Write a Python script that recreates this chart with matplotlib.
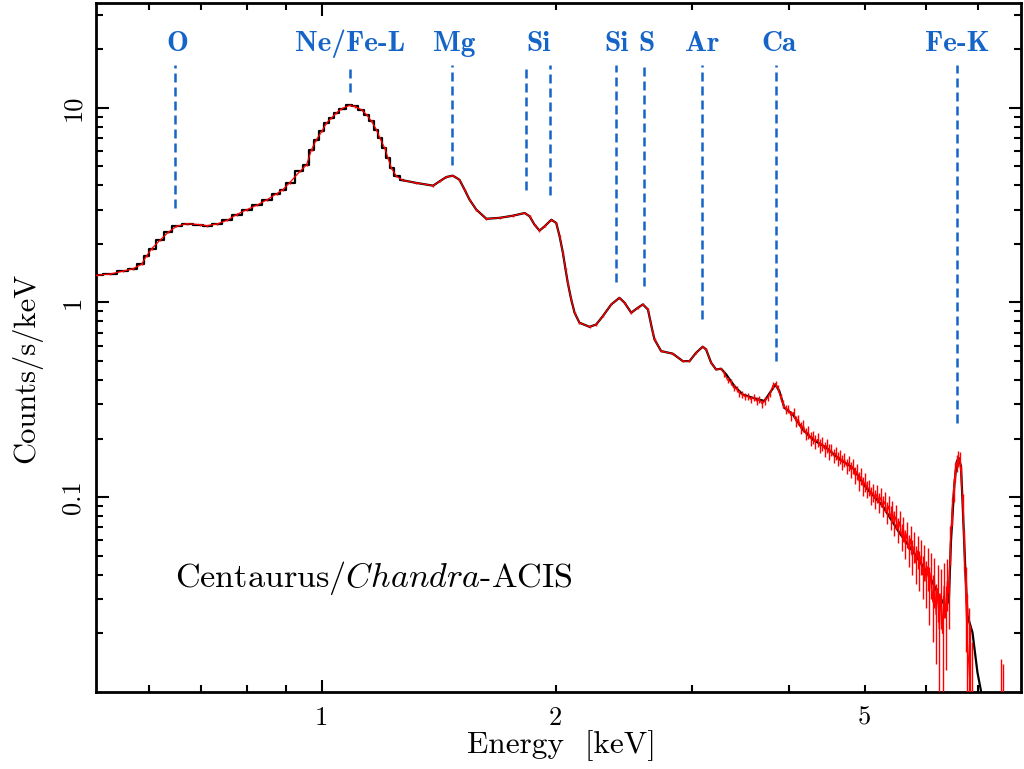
import numpy as np
import matplotlib
matplotlib.use('Agg')
import matplotlib.pyplot as plt
from matplotlib.ticker import FixedLocator, FixedFormatter, NullFormatter
import matplotlib.transforms as mtransforms

plt.rcParams['font.family'] = 'cmr10'
plt.rcParams['mathtext.fontset'] = 'cm'
plt.rcParams['axes.formatter.use_mathtext'] = True
plt.rcParams['axes.unicode_minus'] = False

# ---------------- data ----------------
model_E = [0.513, 0.534, 0.555, 0.571, 0.586, 0.595, 0.604, 0.619, 0.634, 0.650,
           0.670, 0.697, 0.711, 0.733, 0.755, 0.777, 0.801, 0.825, 0.850, 0.875,
           0.891, 0.909, 0.937, 0.956, 0.970, 0.984, 1.000, 1.014, 1.029, 1.044,
           1.060, 1.086, 1.103, 1.125, 1.142, 1.159, 1.176, 1.188, 1.205, 1.217,
           1.229, 1.248, 1.272, 1.324, 1.391, 1.418, 1.447, 1.475, 1.504, 1.527,
           1.550, 1.581, 1.629, 1.694, 1.762, 1.825, 1.852, 1.879, 1.907, 1.936,
           1.975, 2.004, 2.024, 2.044, 2.060, 2.074, 2.095, 2.116, 2.147, 2.212,
           2.256, 2.301, 2.359, 2.417, 2.454, 2.503, 2.552, 2.591, 2.630, 2.669,
           2.682, 2.735, 2.831, 2.917, 2.975, 3.034, 3.094, 3.125, 3.172, 3.219,
           3.267, 3.316, 3.399, 3.483, 3.588, 3.715, 3.789, 3.837, 3.883, 3.941,
           4.040, 4.162, 4.286, 4.460, 4.638, 4.826, 5.021, 5.275, 5.540, 5.823,
           6.056, 6.237, 6.365, 6.420, 6.458, 6.523, 6.567, 6.606, 6.653, 6.683,
           6.737, 6.784, 6.885, 6.987, 7.058, 7.110]
model_C = [1.38, 1.40, 1.45, 1.49, 1.57, 1.74, 1.89, 2.09, 2.29, 2.46,
           2.54, 2.51, 2.48, 2.53, 2.64, 2.83, 3.00, 3.16, 3.37, 3.62,
           3.80, 4.12, 4.71, 5.10, 6.09, 6.85, 7.56, 8.35, 8.85, 9.40,
           9.88, 10.28, 10.15, 9.77, 9.21, 8.51, 7.71, 6.99, 6.21, 5.52,
           4.91, 4.44, 4.24, 4.11, 3.98, 4.19, 4.41, 4.48, 4.27, 3.80,
           3.37, 3.00, 2.69, 2.72, 2.79, 2.88, 2.77, 2.51, 2.34, 2.46,
           2.66, 2.56, 2.19, 1.80, 1.48, 1.26, 1.036, 0.886, 0.787, 0.750,
           0.771, 0.851, 0.977, 1.057, 0.997, 0.886, 0.939, 0.977, 0.921, 0.699,
           0.646, 0.563, 0.546, 0.500, 0.500, 0.552, 0.593, 0.574, 0.491, 0.453,
           0.457, 0.428, 0.372, 0.337, 0.324, 0.312, 0.351, 0.380, 0.351, 0.288,
           0.267, 0.223, 0.198, 0.180, 0.157, 0.142, 0.112, 0.0902, 0.0659, 0.0500,
           0.0395, 0.0312, 0.0272, 0.0300, 0.0586, 0.1143, 0.1507, 0.1598, 0.1447, 0.0977,
           0.0445, 0.0246, 0.0202, 0.0126, 0.0102, 0.0087]

# observed counts at high energy (noisy part)
obs_E = [3.30, 3.33, 3.36, 3.39, 3.42, 3.45, 3.48, 3.51, 3.54, 3.57,
         3.60, 3.63, 3.66, 3.69, 3.72, 3.75, 3.78, 3.81, 3.84, 3.87,
         3.90, 3.93, 3.96, 3.99, 4.02, 4.05, 4.08, 4.11, 4.14, 4.17,
         4.20, 4.23, 4.26, 4.29, 4.32, 4.35, 4.38, 4.41, 4.44, 4.47,
         4.50, 4.53, 4.56, 4.59, 4.62, 4.65, 4.68, 4.71, 4.74, 4.77,
         4.80, 4.83, 4.86, 4.89, 4.92, 4.95, 4.98, 5.01, 5.04, 5.07,
         5.10, 5.13, 5.16, 5.19, 5.22, 5.25, 5.28, 5.31, 5.34, 5.37,
         5.40, 5.43, 5.46, 5.49, 5.52, 5.55, 5.58, 5.61, 5.64, 5.67,
         5.70, 5.73, 5.76, 5.79, 5.82, 5.85, 5.88, 5.91, 5.94, 5.97,
         6.00, 6.03, 6.06, 6.09, 6.12, 6.15, 6.18, 6.21, 6.24, 6.27,
         6.30, 6.33, 6.36, 6.39, 6.42, 6.45, 6.48, 6.51, 6.54, 6.57,
         6.60, 6.63, 6.66, 6.69, 6.72, 6.75, 6.78, 6.81, 6.84, 6.87,
         6.92, 7.00, 7.48, 7.50, 7.53]
obs_C = [0.430, 0.400, 0.392, 0.366, 0.360, 0.342, 0.338, 0.328, 0.330, 0.318,
         0.326, 0.312, 0.318, 0.302, 0.312, 0.325, 0.342, 0.375, 0.380, 0.362,
         0.325, 0.300, 0.282, 0.284, 0.262, 0.272, 0.246, 0.250, 0.226, 0.233,
         0.212, 0.216, 0.200, 0.204, 0.192, 0.198, 0.184, 0.189, 0.177, 0.184,
         0.171, 0.175, 0.163, 0.168, 0.157, 0.161, 0.151, 0.156, 0.145, 0.150,
         0.139, 0.144, 0.130, 0.136, 0.121, 0.128, 0.114, 0.120, 0.110, 0.112,
         0.102, 0.106, 0.098, 0.104, 0.094, 0.100, 0.090, 0.095, 0.084, 0.090,
         0.079, 0.085, 0.074, 0.080, 0.068, 0.075, 0.063, 0.069, 0.058, 0.065,
         0.054, 0.061, 0.050, 0.056, 0.046, 0.053, 0.043, 0.050, 0.040, 0.047,
         0.037, 0.044, 0.033, 0.041, 0.029, 0.038, 0.025, 0.034, 0.021, 0.032,
         0.020, 0.035, 0.024, 0.037, 0.032, 0.058, 0.085, 0.110, 0.135, 0.150,
         0.158, 0.155, 0.130, 0.090, 0.055, 0.030, 0.018, 0.014, 0.010, 0.008,
         0.005, 0.004, 0.004, 0.006, 0.005]
obs_err = [0.014, 0.014, 0.014, 0.014, 0.014, 0.014, 0.014, 0.014, 0.014, 0.014,
           0.014, 0.014, 0.014, 0.014, 0.014, 0.014, 0.014, 0.014, 0.014, 0.014,
           0.014, 0.014, 0.014, 0.014, 0.016, 0.016, 0.016, 0.016, 0.016, 0.016,
           0.016, 0.016, 0.016, 0.016, 0.016, 0.016, 0.016, 0.016, 0.016, 0.016,
           0.016, 0.013, 0.013, 0.013, 0.013, 0.013, 0.013, 0.013, 0.013, 0.013,
           0.013, 0.013, 0.013, 0.013, 0.013, 0.013, 0.013, 0.013, 0.011, 0.011,
           0.011, 0.011, 0.011, 0.011, 0.011, 0.011, 0.011, 0.011, 0.011, 0.011,
           0.011, 0.011, 0.011, 0.011, 0.010, 0.010, 0.010, 0.010, 0.010, 0.010,
           0.010, 0.010, 0.010, 0.010, 0.010, 0.010, 0.010, 0.010, 0.010, 0.010,
           0.010, 0.011, 0.011, 0.011, 0.011, 0.011, 0.011, 0.011, 0.011, 0.011,
           0.011, 0.011, 0.011, 0.011, 0.011, 0.013, 0.014, 0.015, 0.015, 0.015,
           0.015, 0.015, 0.015, 0.014, 0.013, 0.014, 0.014, 0.013, 0.012, 0.010,
           0.004, 0.004, 0.005, 0.0087, 0.009]
low_rel_err = 0.012  # fractional error of the low-energy data points

# emission line markers
line_E = [0.647, 1.086, 1.470, 1.830, 1.970, 2.396, 2.596, 3.092, 3.849, 6.579]
line_top = [16.6, 16.6, 16.6, 16.6, 16.6, 16.6, 16.6, 16.6, 16.6, 16.6]
line_bottom = [3.07, 12.1, 5.10, 3.80, 3.58, 1.28, 1.22, 0.818, 0.498, 0.2396]
label_names = ['O', 'Ne/Fe-L', 'Mg', 'Si', 'Si', 'S', 'Ar', 'Ca', 'Fe-K']
label_E = [0.651, 1.088, 1.481, 1.899, 2.396, 2.619, 3.092, 3.883, 6.572]

x_major = [1]
x_major_labels = ['1']
x_minor = [0.6, 0.7, 0.8, 0.9, 2, 3, 4, 5, 6, 7]
x_minor_labels = ['', '', '', '', '2', '', '', '5', '', '']
y_major = [0.1, 1, 10]
y_major_labels = ['0.1', '1', '10']
y_minor = [0.02, 0.03, 0.04, 0.05, 0.06, 0.07, 0.08, 0.09,
           0.2, 0.3, 0.4, 0.5, 0.6, 0.7, 0.8, 0.9,
           2, 3, 4, 5, 6, 7, 8, 9, 20, 30]

# ---------------- plot ----------------
BLUE = '#1565c8'
fig = plt.figure(figsize=(10.24, 7.69), dpi=100)
ax = fig.add_axes([96/1024, 1-692/769, 925/1024, 689/769])
ax.set_xscale('log')
ax.set_yscale('log')
ax.set_xlim(0.512, 7.95)
ax.set_ylim(0.01, 34.5)

mE = np.array(model_E)
mC = np.array(model_C)
lo = mE <= 1.272
ax.step(mE[lo], mC[lo], where='mid', color='black', lw=1.6, zorder=2)
hi = mE >= 1.272
ax.plot(mE[hi], mC[hi], color='black', lw=1.6, zorder=2)

low_mask = mE < 3.3
dE = np.concatenate([mE[low_mask], np.array(obs_E)])
dC = np.concatenate([mC[low_mask], np.array(obs_C)])
dErr = np.concatenate([mC[low_mask] * low_rel_err, np.array(obs_err)])
lower = np.where(dC - dErr > 0, dErr, dC - 1e-5)
ax.errorbar(dE, dC, yerr=[lower, dErr], fmt='-', color='red', lw=0.9,
            elinewidth=1.0, capsize=0, zorder=3)

for e, t, b in zip(line_E, line_top, line_bottom):
    ax.plot([e, e], [b, t], color=BLUE, lw=1.8, dashes=(3.6, 2.0), zorder=1)

trans = mtransforms.blended_transform_factory(ax.transData, ax.transAxes)
for e, name in zip(label_E, label_names):
    ax.text(e, 0.9405, name, transform=trans, ha='center', va='center',
            family='cmb10', fontsize=21, color=BLUE)

ax.text(0.0854, 0.1655, r'Centaurus/$\mathit{Chandra}$-ACIS', transform=ax.transAxes,
        fontsize=24.6, ha='left', va='center')

ax.xaxis.set_major_locator(FixedLocator(x_major))
ax.xaxis.set_major_formatter(FixedFormatter(x_major_labels))
ax.xaxis.set_minor_locator(FixedLocator(x_minor))
ax.xaxis.set_minor_formatter(FixedFormatter(x_minor_labels))
ax.yaxis.set_major_locator(FixedLocator(y_major))
ax.yaxis.set_major_formatter(FixedFormatter(y_major_labels))
ax.yaxis.set_minor_locator(FixedLocator(y_minor))
ax.yaxis.set_minor_formatter(NullFormatter())

ax.tick_params(which='both', direction='in', top=True, right=True, width=1.5,
               labelsize=19)
ax.tick_params(which='major', length=9)
ax.tick_params(which='minor', length=5)
ax.tick_params(axis='x', which='both', pad=10)
ax.tick_params(axis='y', which='both', pad=8)
ax.tick_params(axis='y', which='major', labelrotation=90)
for lab in ax.get_yticklabels():
    lab.set_va('center')

for s in ax.spines.values():
    s.set_linewidth(2.0)

ax.set_xlabel('Energy  [keV]', fontsize=22.5)
ax.set_ylabel('Counts/s/keV', fontsize=22)
ax.xaxis.set_label_coords(0.503, -0.055)
ax.yaxis.set_label_coords(-0.058, 0.47)

fig.savefig('out.png', dpi=100)
